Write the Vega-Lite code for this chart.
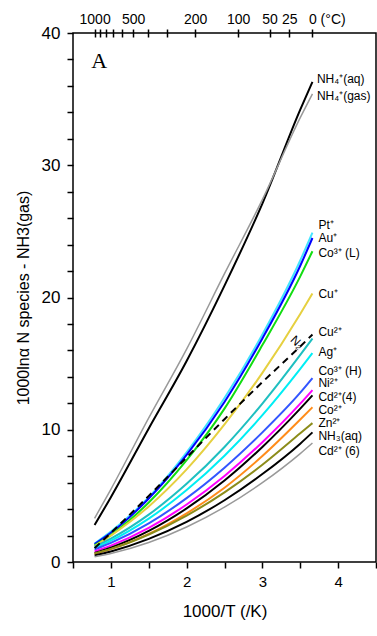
{
  "$schema": "https://vega.github.io/schema/vega-lite/v6.json",
  "width": 303,
  "height": 529,
  "autosize": {"type": "none"},
  "padding": {"left": 73, "top": 33, "right": 1, "bottom": 74},
  "background": "white",
  "config": {
    "view": {"stroke": "black", "strokeWidth": 1.5},
    "font": "Liberation Sans",
    "axis": {"domainColor": "black", "tickColor": "black", "labelColor": "black", "titleColor": "black", "grid": false, "titleFontWeight": "normal", "labelFont": "Liberation Sans", "titleFont": "Liberation Sans"}
  },
  "datasets": {
    "curves": [
      {"s": "NH4aq", "x": 0.785, "y": 2.8}, {"s": "NH4aq", "x": 1.0, "y": 4.9}, {"s": "NH4aq", "x": 1.5, "y": 10.1}, {"s": "NH4aq", "x": 2.0, "y": 15.2}, {"s": "NH4aq", "x": 2.5, "y": 20.9}, {"s": "NH4aq", "x": 3.0, "y": 27.1}, {"s": "NH4aq", "x": 3.5, "y": 34.2}, {"s": "NH4aq", "x": 3.661, "y": 36.3},
      {"s": "NH4gas", "x": 0.785, "y": 3.3}, {"s": "NH4gas", "x": 1.0, "y": 5.5}, {"s": "NH4gas", "x": 1.5, "y": 10.9}, {"s": "NH4gas", "x": 2.0, "y": 16.1}, {"s": "NH4gas", "x": 2.5, "y": 21.8}, {"s": "NH4gas", "x": 3.0, "y": 27.4}, {"s": "NH4gas", "x": 3.5, "y": 33.6}, {"s": "NH4gas", "x": 3.661, "y": 35.4},
      {"s": "Pt", "x": 0.785, "y": 1.4}, {"s": "Pt", "x": 1.0, "y": 2.3}, {"s": "Pt", "x": 1.5, "y": 4.9}, {"s": "Pt", "x": 2.0, "y": 8.3}, {"s": "Pt", "x": 2.5, "y": 12.4}, {"s": "Pt", "x": 3.0, "y": 17.2}, {"s": "Pt", "x": 3.5, "y": 22.8}, {"s": "Pt", "x": 3.661, "y": 24.9},
      {"s": "Au", "x": 0.785, "y": 1.35}, {"s": "Au", "x": 1.0, "y": 2.2}, {"s": "Au", "x": 1.5, "y": 4.8}, {"s": "Au", "x": 2.0, "y": 8.1}, {"s": "Au", "x": 2.5, "y": 12.1}, {"s": "Au", "x": 3.0, "y": 16.9}, {"s": "Au", "x": 3.5, "y": 22.4}, {"s": "Au", "x": 3.661, "y": 24.5},
      {"s": "Co3L", "x": 0.785, "y": 1.25}, {"s": "Co3L", "x": 1.0, "y": 2.05}, {"s": "Co3L", "x": 1.5, "y": 4.5}, {"s": "Co3L", "x": 2.0, "y": 7.7}, {"s": "Co3L", "x": 2.5, "y": 11.6}, {"s": "Co3L", "x": 3.0, "y": 16.4}, {"s": "Co3L", "x": 3.5, "y": 21.6}, {"s": "Co3L", "x": 3.661, "y": 23.5},
      {"s": "N2", "x": 0.785, "y": 1.05}, {"s": "N2", "x": 1.0, "y": 2.2}, {"s": "N2", "x": 1.5, "y": 5.0}, {"s": "N2", "x": 2.0, "y": 7.9}, {"s": "N2", "x": 2.5, "y": 10.8}, {"s": "N2", "x": 3.0, "y": 13.6}, {"s": "N2", "x": 3.5, "y": 16.3}, {"s": "N2", "x": 3.661, "y": 17.2},
      {"s": "Cu1", "x": 0.785, "y": 1.2}, {"s": "Cu1", "x": 1.0, "y": 2.0}, {"s": "Cu1", "x": 1.5, "y": 4.2}, {"s": "Cu1", "x": 2.0, "y": 7.0}, {"s": "Cu1", "x": 2.5, "y": 10.4}, {"s": "Cu1", "x": 3.0, "y": 14.3}, {"s": "Cu1", "x": 3.5, "y": 18.75}, {"s": "Cu1", "x": 3.661, "y": 20.3},
      {"s": "Cu2", "x": 0.785, "y": 1.16}, {"s": "Cu2", "x": 1.0, "y": 1.77}, {"s": "Cu2", "x": 1.5, "y": 3.58}, {"s": "Cu2", "x": 2.0, "y": 5.91}, {"s": "Cu2", "x": 2.5, "y": 8.7}, {"s": "Cu2", "x": 3.0, "y": 11.98}, {"s": "Cu2", "x": 3.5, "y": 15.66}, {"s": "Cu2", "x": 3.661, "y": 16.9},
      {"s": "Ag", "x": 0.785, "y": 1.05}, {"s": "Ag", "x": 1.0, "y": 1.61}, {"s": "Ag", "x": 1.5, "y": 3.28}, {"s": "Ag", "x": 2.0, "y": 5.44}, {"s": "Ag", "x": 2.5, "y": 8.04}, {"s": "Ag", "x": 3.0, "y": 11.1}, {"s": "Ag", "x": 3.5, "y": 14.6}, {"s": "Ag", "x": 3.661, "y": 15.8},
      {"s": "Co3H", "x": 0.785, "y": 0.94}, {"s": "Co3H", "x": 1.0, "y": 1.44}, {"s": "Co3H", "x": 1.5, "y": 2.92}, {"s": "Co3H", "x": 2.0, "y": 4.83}, {"s": "Co3H", "x": 2.5, "y": 7.13}, {"s": "Co3H", "x": 3.0, "y": 9.8}, {"s": "Co3H", "x": 3.5, "y": 12.8}, {"s": "Co3H", "x": 3.661, "y": 13.9},
      {"s": "Ni", "x": 0.785, "y": 0.8}, {"s": "Ni", "x": 1.0, "y": 1.24}, {"s": "Ni", "x": 1.5, "y": 2.58}, {"s": "Ni", "x": 2.0, "y": 4.35}, {"s": "Ni", "x": 2.5, "y": 6.51}, {"s": "Ni", "x": 3.0, "y": 9.06}, {"s": "Ni", "x": 3.5, "y": 11.97}, {"s": "Ni", "x": 3.661, "y": 13.0},
      {"s": "Cd4", "x": 0.785, "y": 0.69}, {"s": "Cd4", "x": 1.0, "y": 1.09}, {"s": "Cd4", "x": 1.5, "y": 2.35}, {"s": "Cd4", "x": 2.0, "y": 4.05}, {"s": "Cd4", "x": 2.5, "y": 6.16}, {"s": "Cd4", "x": 3.0, "y": 8.7}, {"s": "Cd4", "x": 3.5, "y": 11.6}, {"s": "Cd4", "x": 3.661, "y": 12.6},
      {"s": "Co2", "x": 0.785, "y": 0.61}, {"s": "Co2", "x": 1.0, "y": 0.97}, {"s": "Co2", "x": 1.5, "y": 2.12}, {"s": "Co2", "x": 2.0, "y": 3.68}, {"s": "Co2", "x": 2.5, "y": 5.62}, {"s": "Co2", "x": 3.0, "y": 8.01}, {"s": "Co2", "x": 3.5, "y": 10.77}, {"s": "Co2", "x": 3.661, "y": 11.7},
      {"s": "Zn", "x": 0.785, "y": 0.64}, {"s": "Zn", "x": 1.0, "y": 0.99}, {"s": "Zn", "x": 1.5, "y": 2.08}, {"s": "Zn", "x": 2.0, "y": 3.51}, {"s": "Zn", "x": 2.5, "y": 5.27}, {"s": "Zn", "x": 3.0, "y": 7.35}, {"s": "Zn", "x": 3.5, "y": 9.73}, {"s": "Zn", "x": 3.661, "y": 10.5},
      {"s": "NH3aq", "x": 0.785, "y": 0.5}, {"s": "NH3aq", "x": 1.0, "y": 0.8}, {"s": "NH3aq", "x": 1.5, "y": 1.75}, {"s": "NH3aq", "x": 2.0, "y": 3.04}, {"s": "NH3aq", "x": 2.5, "y": 4.67}, {"s": "NH3aq", "x": 3.0, "y": 6.65}, {"s": "NH3aq", "x": 3.5, "y": 8.95}, {"s": "NH3aq", "x": 3.661, "y": 9.8},
      {"s": "Cd6", "x": 0.785, "y": 0.4}, {"s": "Cd6", "x": 1.0, "y": 0.65}, {"s": "Cd6", "x": 1.5, "y": 1.48}, {"s": "Cd6", "x": 2.0, "y": 2.65}, {"s": "Cd6", "x": 2.5, "y": 4.15}, {"s": "Cd6", "x": 3.0, "y": 6.0}, {"s": "Cd6", "x": 3.5, "y": 8.2}, {"s": "Cd6", "x": 3.661, "y": 9.0}
    ],
    "labels": [
      {"t": "NH₄⁺(aq)", "x": 3.72, "y": 36.5},
      {"t": "NH₄⁺(gas)", "x": 3.72, "y": 35.2},
      {"t": "Pt⁺", "x": 3.74, "y": 25.5},
      {"t": "Au⁺", "x": 3.74, "y": 24.5},
      {"t": "Co³⁺ (L)", "x": 3.74, "y": 23.4},
      {"t": "Cu⁺", "x": 3.74, "y": 20.3},
      {"t": "Cu²⁺", "x": 3.74, "y": 17.4},
      {"t": "Ag⁺", "x": 3.74, "y": 15.9},
      {"t": "Co³⁺ (H)", "x": 3.74, "y": 14.45},
      {"t": "Ni²⁺", "x": 3.74, "y": 13.5},
      {"t": "Cd²⁺(4)", "x": 3.74, "y": 12.45},
      {"t": "Co²⁺", "x": 3.74, "y": 11.5},
      {"t": "Zn²⁺", "x": 3.74, "y": 10.5},
      {"t": "NH₃(aq)", "x": 3.74, "y": 9.55},
      {"t": "Cd²⁺ (6)", "x": 3.74, "y": 8.4}
    ]
  },
  "layer": [
    {
      "data": {"name": "curves"},
      "transform": [{"filter": "datum.s !== 'N2' && datum.s !== 'NH4gas' && datum.s !== 'Cd6'"}],
      "mark": {"type": "line", "interpolate": "monotone", "strokeWidth": 2},
      "encoding": {
        "x": {"field": "x", "type": "quantitative", "scale": {"domain": [0.5, 4.5], "nice": false, "zero": false},
          "axis": {"orient": "bottom", "title": "1000/T (/K)", "titleFontSize": 17, "titlePadding": 14, "labelFontSize": 15, "labelPadding": 6,
            "ticks": true, "tickSize": 6, "tickWidth": 1.5, "tickColor": "black", "tickCount": 100, "labelOverlap": false, "labelBound": false,
            "values": [0.5, 1, 1.5, 2, 2.5, 3, 3.5, 4, 4.5], "labelExpr": "datum.value % 1 === 0 ? datum.value : ''", "domain": false}},
        "y": {"field": "y", "type": "quantitative", "scale": {"domain": [0, 40], "nice": false, "zero": false},
          "axis": {"title": "1000lnα N species - NH3(gas)", "titleFontSize": 16, "titlePadding": 10, "labelFontSize": 17, "labelPadding": 7,
            "ticks": true, "tickSize": 6, "tickWidth": 1.5, "tickColor": "black", "tickCount": 100, "labelOverlap": false, "labelBound": false,
            "values": [0, 2, 4, 6, 8, 10, 12, 14, 16, 18, 20, 22, 24, 26, 28, 30, 32, 34, 36, 38, 40], "labelExpr": "datum.value % 10 === 0 ? datum.value : ''", "domain": false}},
        "color": {"field": "s", "type": "nominal", "legend": null,
          "scale": {"domain": ["NH4aq", "Pt", "Au", "Co3L", "Cu1", "Cu2", "Ag", "Co3H", "Ni", "Cd4", "Co2", "Zn", "NH3aq"],
            "range": ["#000000", "#44E4FF", "#0000FF", "#11DD11", "#E6D040", "#1FBFC0", "#00EEF4", "#3355FF", "#FF00FF", "#000000", "#FF8C1A", "#8C8C1A", "#000000"]}}
      }
    },
    {
      "data": {"name": "curves"},
      "transform": [{"filter": "datum.s === 'NH4gas' || datum.s === 'Cd6'"}],
      "mark": {"type": "line", "interpolate": "monotone", "strokeWidth": 1.5, "color": "#999999"},
      "encoding": {
        "x": {"field": "x", "type": "quantitative", "scale": {"domain": [0.5, 4.5], "nice": false, "zero": false}, "axis": null},
        "y": {"field": "y", "type": "quantitative", "scale": {"domain": [0, 40], "nice": false, "zero": false}},
        "detail": {"field": "s"}
      }
    },
    {
      "data": {"name": "curves"},
      "transform": [{"filter": "datum.s === 'N2'"}],
      "mark": {"type": "line", "interpolate": "monotone", "strokeWidth": 2, "color": "black", "strokeDash": [7, 5]},
      "encoding": {
        "x": {"field": "x", "type": "quantitative", "scale": {"domain": [0.5, 4.5], "nice": false, "zero": false}, "axis": null},
        "y": {"field": "y", "type": "quantitative", "scale": {"domain": [0, 40], "nice": false, "zero": false}}
      }
    },
    {
      "data": {"name": "labels"},
      "mark": {"type": "text", "align": "left", "baseline": "middle", "fontSize": 12, "font": "Liberation Sans", "color": "black"},
      "encoding": {
        "x": {"field": "x", "type": "quantitative", "scale": {"domain": [0.5, 4.5], "nice": false, "zero": false}, "axis": null},
        "y": {"field": "y", "type": "quantitative", "scale": {"domain": [0, 40], "nice": false, "zero": false}},
        "text": {"field": "t"}
      }
    },
    {
      "data": {"values": [{"t": "N₂", "x": 3.46, "y": 16.6}]},
      "mark": {"type": "text", "align": "center", "baseline": "middle", "fontSize": 12, "font": "Liberation Sans", "angle": 45, "color": "black"},
      "encoding": {
        "x": {"field": "x", "type": "quantitative", "scale": {"domain": [0.5, 4.5], "nice": false, "zero": false}, "axis": null},
        "y": {"field": "y", "type": "quantitative", "scale": {"domain": [0, 40], "nice": false, "zero": false}},
        "text": {"field": "t"}
      }
    },
    {
      "data": {"values": [{"t": "A", "x": 0.74, "y": 37.9}]},
      "mark": {"type": "text", "align": "left", "baseline": "middle", "fontSize": 22, "font": "Liberation Serif", "color": "black"},
      "encoding": {
        "x": {"field": "x", "type": "quantitative", "scale": {"domain": [0.5, 4.5], "nice": false, "zero": false},
          "axis": {"orient": "top", "title": null, "domain": false, "offset": -4, "labelFontSize": 14, "labelPadding": 3,
            "ticks": true, "tickSize": 8, "tickWidth": 1.5, "tickColor": "black", "tickCount": 100, "labelOverlap": false, "labelBound": false,
            "values": [0.7855, 0.8525, 0.932, 1.0277, 1.1453, 1.2934, 1.4859, 1.7447, 2.1134, 2.6799, 3.0945, 3.354, 3.661],
            "labelExpr": "datum.value > 3.6 ? '0 (°C)' : (indexof([1000, 500, 200, 100, 50, 25], round(1000 / datum.value - 273.15)) >= 0 ? '' + round(1000 / datum.value - 273.15) : '')",
            "labelAlign": {"condition": {"test": "datum.value > 3.6", "value": "left"}, "value": "center"},
            "labelOffset": {"condition": {"test": "datum.value > 3.6", "value": -4}, "value": 0}}},
        "y": {"field": "y", "type": "quantitative", "scale": {"domain": [0, 40], "nice": false, "zero": false}},
        "text": {"field": "t"}
      }
    }
  ],
  "resolve": {"axis": {"x": "independent"}}
}
